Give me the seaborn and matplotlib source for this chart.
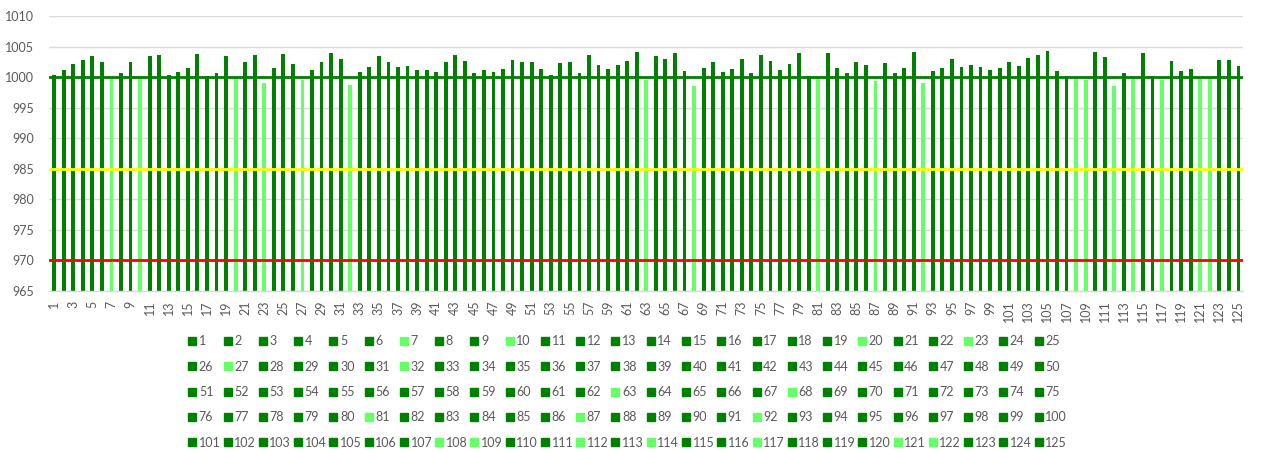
import matplotlib
matplotlib.use("Agg")
import matplotlib.pyplot as plt
from matplotlib.lines import Line2D
import seaborn as sns
import pandas as pd

# Readings for 125 samples
ids = list(range(1, 126))
values = [
    1000.4, 1001.2, 1002.2, 1002.8, 1003.4, 1002.5, 999.8, 1000.7, 1002.5, 999.8,
    1003.4, 1003.6, 1000.4, 1000.9, 1001.5, 1003.8, 1000.2, 1000.7, 1003.4, 999.8,
    1002.5, 1003.6, 999.0, 1001.5, 1003.8, 1002.2, 999.6, 1001.2, 1002.5, 1003.9,
    1003.0, 998.7, 1000.9, 1001.7, 1003.4, 1002.5, 1001.7, 1001.8, 1001.1, 1001.1,
    1000.8, 1002.5, 1003.6, 1002.6, 1000.6, 1001.1, 1000.9, 1001.3, 1002.8, 1002.4,
    1002.5, 1001.3, 1000.4, 1002.3, 1002.5, 1000.6, 1003.6, 1002.0, 1001.3, 1002.0,
    1002.6, 1004.1, 999.5, 1003.4, 1003.0, 1003.9, 1001.0, 998.5, 1001.5, 1002.5,
    1000.9, 1001.3, 1003.0, 1000.7, 1003.6, 1002.6, 1001.2, 1002.2, 1003.9, 1000.2,
    999.8, 1003.9, 1001.5, 1000.7, 1002.5, 1002.0, 999.3, 1002.3, 1000.7, 1001.5,
    1004.1, 999.0, 1001.0, 1001.5, 1003.0, 1001.7, 1002.0, 1001.7, 1001.2, 1001.5,
    1002.5, 1001.8, 1003.1, 1003.6, 1004.2, 1001.0, 1000.2, 999.8, 999.5, 1004.1,
    1003.3, 998.5, 1000.7, 999.8, 1003.9, 1000.2, 999.6, 1002.6, 1001.0, 1001.3,
    999.8, 999.8, 1002.8, 1002.8, 1001.8,
]
# Samples drawn in the light shade
light_ids = [7, 10, 20, 23, 27, 32, 63, 68, 81, 87, 92, 108, 109, 112, 114, 117, 121, 122]

# Reference levels: nominal, warning, alarm
nominal_level = 1000
warning_level = 985
alarm_level = 970

y_min, y_max, y_step = 965, 1010, 5

DARK = "#008000"
LIGHT = "#66FF66"
TEXT = "#595959"
FS = 9

labels = [str(i) for i in ids]
df = pd.DataFrame({"id": labels, "value": values})
palette = {str(i): (LIGHT if i in light_ids else DARK) for i in ids}

sns.set_theme(style="white")
plt.rcParams["font.family"] = ["Lato", "DejaVu Sans"]

fig = plt.figure(figsize=(12.66, 4.51), dpi=100)
ax = fig.add_axes([0.039, 0.355, 0.943, 0.6095])

sns.barplot(data=df, x="id", y="value", hue="id", palette=palette,
            order=labels, hue_order=labels, width=0.4, dodge=False,
            legend=False, saturation=1, ax=ax, linewidth=0)

ax.set_ylim(y_min, y_max)
ax.set_yticks(range(y_min, y_max + 1, y_step))
ax.set_xlim(-0.5, len(ids) - 0.5)
ax.grid(axis="y", color="#D9D9D9", linewidth=1)
ax.set_axisbelow(True)

for level, col in [(nominal_level, DARK), (warning_level, "#FFFF00"), (alarm_level, "#FF0000")]:
    ax.axhline(level, color=col, linewidth=2, zorder=5)

for s in ["top", "right", "left"]:
    ax.spines[s].set_visible(False)
ax.spines["bottom"].set_color("#D9D9D9")
ax.spines["bottom"].set_linewidth(1)

ax.set_xlabel("")
ax.set_ylabel("")
ax.set_xticks(range(len(ids)))
ax.set_xticklabels([lab if int(lab) % 2 == 1 else "" for lab in labels],
                   rotation=90, fontsize=FS, color=TEXT)
ax.tick_params(axis="y", labelsize=FS, labelcolor=TEXT, length=0, pad=11)
ax.tick_params(axis="x", length=0, pad=7)

# Legend laid out row by row, 25 entries per row
handles = [Line2D([], [], marker="s", linestyle="none", markersize=5.5,
                  markerfacecolor=palette[lab], markeredgecolor=palette[lab])
           for lab in labels]
ncol, nrow = 25, 5
order = [r * ncol + c for c in range(ncol) for r in range(nrow)]
fig.legend([handles[k] for k in order], [labels[k] for k in order],
           loc="center", bbox_to_anchor=(0.496, 0.131), ncol=ncol, frameon=False,
           fontsize=FS, labelcolor=TEXT, handlelength=0.55, handletextpad=0.25,
           columnspacing=0.28, labelspacing=1.07, borderpad=0)

fig.savefig("out.png", dpi=100)
